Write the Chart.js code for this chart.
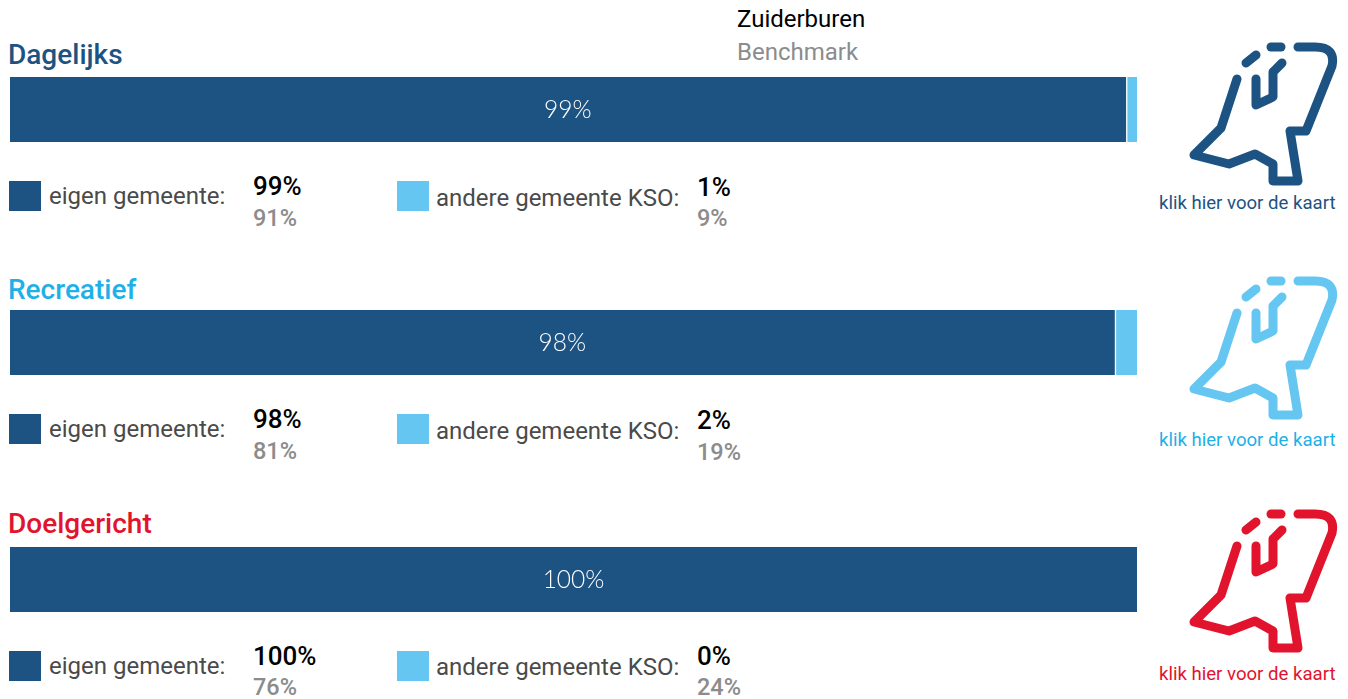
<!DOCTYPE html>
<html>
<head>
<meta charset="utf-8">
<script src="https://cdn.jsdelivr.net/npm/chart.js@4"></script>
<style>
html, body { margin: 0; padding: 0; background: #fff; overflow: hidden; }
body { width: 1348px; height: 699px; position: relative; font-family: Roboto, sans-serif; }
.t { position: absolute; white-space: nowrap; line-height: 1; transform: translateY(-50%); }
.sw { position: absolute; width: 32px; height: 30px; }
canvas { position: absolute; }
svg { position: absolute; left: 1150px; width: 198px; height: 190px; }
</style>
</head>
<body>
<script>
// data
var titles = ['Dagelijks', 'Recreatief', 'Doelgericht'];
var eigen = [99, 98, 100];
var andere = [1, 2, 0];
var eigenBenchmark = [91, 81, 76];
var andereBenchmark = [9, 19, 24];
var eigenLabel = 'eigen gemeente:';
var andereLabel = 'andere gemeente KSO:';
var kaartLabel = 'klik hier voor de kaart';

var donker = '#1d5382';
var licht = '#65c7f1';
var titleColors = ['#1d5382', '#1fb0e8', '#e2132d'];
var iconColors = ['#1d5382', '#65c7f1', '#e2132d'];
var kaartColors = ['#1d5382', '#1fb0e8', '#e2132d'];

// layout per block
var titleY = [55, 290, 524];
var barY = [77, 310, 547];
var swatchY = [181, 414, 651];
var eigenY = [196, 429, 666];
var andereY = [198, 431, 667];
var valY = [186, 419, 656];
var benchY = [219, 452, 688];
var valY2 = [187, 420, 656];
var benchY2 = [219, 453, 688];
var kaartY = [203, 440, 674];
var iconY = [30, 264, 497];

function text(str, x, y, size, color, weight) {
    var d = document.createElement('div');
    d.className = 't';
    d.textContent = str;
    d.style.left = x + 'px';
    d.style.top = y + 'px';
    d.style.fontSize = size + 'px';
    d.style.color = color;
    d.style.fontWeight = weight || 400;
    document.body.appendChild(d);
}

function swatch(x, y, color) {
    var d = document.createElement('div');
    d.className = 'sw';
    d.style.left = x + 'px';
    d.style.top = y + 'px';
    d.style.background = color;
    document.body.appendChild(d);
}

function icon(y, color) {
    var s = '<svg viewBox="0 0 198 190" style="top:' + y + 'px" fill="none" stroke="' + color +
        '" stroke-width="9" stroke-linecap="round" stroke-linejoin="round">' +
        '<path d="M87 49 L71 98 L44 125 L79 134 L105 124 L123 134 L123 151 L148 151 L140 101 L156 101 L182 36 Q186 17 165 17 L148 17"/>' +
        '<path d="M106 49 L106 75 L123 67 L123 42 L132 33"/>' +
        '<path d="M96 33 L106 25"/>' +
        '<path d="M121 17 L131 17"/>' +
        '</svg>';
    document.body.insertAdjacentHTML('beforeend', s);
}

// label in the middle of the dark bar
var barLabel = {
    id: 'barLabel',
    afterDatasetsDraw: function (chart) {
        var bar = chart.getDatasetMeta(0).data[0];
        var ctx = chart.ctx;
        ctx.save();
        ctx.font = '300 24.5px Lato, Roboto, sans-serif';
        ctx.fillStyle = '#ffffff';
        ctx.textAlign = 'center';
        ctx.textBaseline = 'middle';
        ctx.fillText(chart.data.datasets[0].data[0] + '%', (bar.x + bar.base) / 2, bar.y + 1);
        ctx.restore();
    }
};

titles.forEach(function (title, i) {
    text(title, 8, titleY[i], 28, titleColors[i], 500);

    var c = document.createElement('canvas');
    c.style.left = '10px';
    c.style.top = barY[i] + 'px';
    c.width = 1127;
    c.height = 65;
    document.body.appendChild(c);

    new Chart(c.getContext('2d'), {
        type: 'bar',
        data: {
            labels: [title],
            datasets: [
                { label: eigenLabel, data: [eigen[i]], backgroundColor: donker, borderWidth: 0 },
                {
                    label: andereLabel, data: [andere[i]], backgroundColor: licht,
                    borderColor: '#ffffff', borderWidth: { left: 2, right: 0, top: 0, bottom: 0 }, borderSkipped: false
                }
            ]
        },
        options: {
            indexAxis: 'y',
            responsive: false,
            animation: false,
            barPercentage: 1,
            categoryPercentage: 1,
            layout: { padding: 0 },
            plugins: { legend: { display: false }, tooltip: { enabled: false } },
            scales: {
                x: { stacked: true, min: 0, max: 100, display: false },
                y: { stacked: true, display: false }
            }
        },
        plugins: [barLabel]
    });

    swatch(9, swatchY[i], donker);
    text(eigenLabel, 49, eigenY[i], 24, '#4a4a4a');
    text(eigen[i] + '%', 253, valY[i], 26, '#000000', 500);
    text(eigenBenchmark[i] + '%', 253, benchY[i], 23.5, '#8c8c8c', 500);

    swatch(397, swatchY[i], licht);
    text(andereLabel, 436, andereY[i], 24, '#4a4a4a');
    text(andere[i] + '%', 697, valY2[i], 26, '#000000', 500);
    text(andereBenchmark[i] + '%', 697, benchY2[i], 23.5, '#8c8c8c', 500);

    icon(iconY[i], iconColors[i]);
    text(kaartLabel, 1159, kaartY[i], 18.6, kaartColors[i]);
});

text('Zuiderburen', 737, 19, 24, '#000000');
text('Benchmark', 737, 52, 24, '#8c8c8c');
</script>
</body>
</html>
